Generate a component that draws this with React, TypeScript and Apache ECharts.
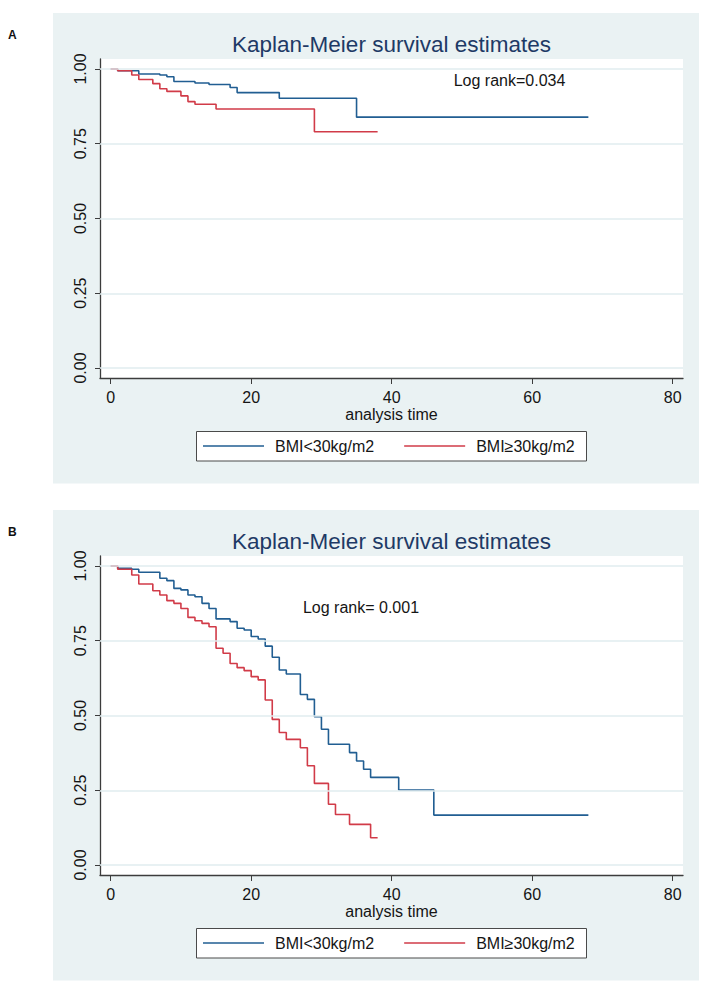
import React, { useEffect, useRef } from "react";
import * as echarts from "echarts";

// ---------- data ----------
const xTicks = [0, 20, 40, 60, 80];
const yTicks = [0, 0.25, 0.5, 0.75, 1];
const groupNames = ["BMI<30kg/m2", "BMI≥30kg/m2"];
const panelLabels = ["A", "B"];
const logRankTexts = ["Log rank=0.034", "Log rank= 0.001"];
const titleText = "Kaplan-Meier survival estimates";
const xTitle = "analysis time";

// Panel A
const aLowTime = [0, 1, 4, 7, 8, 9, 12, 14, 17, 18, 24, 35, 68];
const aLowSurv = [1, 0.994, 0.983, 0.98, 0.974, 0.958, 0.953, 0.948, 0.938, 0.921, 0.902, 0.839, 0.839];
const aHighTime = [0, 1, 3, 4, 6, 7, 8, 10, 11, 12, 15, 29, 38];
const aHighSurv = [1, 0.994, 0.98, 0.965, 0.951, 0.934, 0.925, 0.91, 0.891, 0.882, 0.866, 0.79, 0.79];

// Panel B
const bLowTime = [0, 1, 3, 4, 7, 8, 9, 10, 11, 12, 13, 14, 15, 17, 18, 19, 20, 21, 22, 23, 24, 25, 27, 28, 29, 30, 31, 34, 35, 36, 37, 41, 46, 68];
const bLowSurv = [1, 0.992, 0.989, 0.979, 0.959, 0.951, 0.925, 0.92, 0.903, 0.897, 0.875, 0.858, 0.823, 0.814, 0.792, 0.786, 0.764, 0.756, 0.732, 0.695, 0.652, 0.639, 0.57, 0.554, 0.496, 0.454, 0.404, 0.376, 0.348, 0.32, 0.293, 0.251, 0.167, 0.167];
const bHighTime = [0, 1, 3, 4, 6, 7, 8, 9, 10, 11, 12, 13, 14, 15, 16, 17, 18, 19, 20, 21, 22, 23, 24, 25, 27, 28, 29, 31, 32, 34, 37, 38];
const bHighSurv = [1, 0.989, 0.97, 0.94, 0.917, 0.903, 0.884, 0.875, 0.858, 0.828, 0.817, 0.808, 0.797, 0.725, 0.708, 0.674, 0.66, 0.65, 0.63, 0.619, 0.552, 0.487, 0.443, 0.42, 0.392, 0.332, 0.273, 0.203, 0.169, 0.136, 0.091, 0.091];

// ---------- styling ----------
const FONT = "'Liberation Sans', Arial, Helvetica, sans-serif";
const BLUE = "#215e92";
const RED = "#d13b48";
const PANEL_BG = "#eaf2f3";
const GRID_LINE = "#e0ecef";
const AXIS_COLOR = "#3c3c3c";
const TEXT_COLOR = "#151515";
const TITLE_COLOR = "#1e3a66";
const OFFSET = 497;

const zip = (t: number[], s: number[]) => t.map((v, i) => [v, s[i]]);

const panels = [
  { low: zip(aLowTime, aLowSurv), high: zip(aHighTime, aHighSurv) },
  { low: zip(bLowTime, bLowSurv), high: zip(bHighTime, bHighSurv) },
];

export default function App() {
  const ref = useRef<HTMLDivElement>(null);

  useEffect(() => {
    document.body.style.margin = "0";
    if (!ref.current) return;
    const chart = echarts.init(ref.current, undefined, { renderer: "svg" });

    const grids: any[] = [];
    const xAxes: any[] = [];
    const yAxes: any[] = [];
    const series: any[] = [];
    const titles: any[] = [];
    const legends: any[] = [];
    const graphics: any[] = [];

    panels.forEach((p, i) => {
      const dy = i * OFFSET;
      grids.push({
        left: 100,
        top: 59 + dy,
        width: 583,
        height: 319,
        show: true,
        backgroundColor: "#ffffff",
        borderWidth: 0,
      });
      xAxes.push({
        type: "value",
        gridIndex: i,
        min: -1.52,
        max: 81.47,
        name: xTitle,
        nameLocation: "middle",
        nameGap: 28,
        nameTextStyle: { fontSize: 16, color: TEXT_COLOR, fontFamily: FONT },
        axisLine: { show: true, onZero: false, lineStyle: { color: AXIS_COLOR, width: 1.3 } },
        axisTick: { show: true, length: 6, customValues: xTicks, lineStyle: { color: AXIS_COLOR, width: 1 } },
        axisLabel: {
          show: true,
          customValues: xTicks,
          margin: 11,
          fontSize: 16,
          color: TEXT_COLOR,
          fontFamily: FONT,
          formatter: (v: number) => String(v),
        },
        splitLine: { show: false },
      });
      yAxes.push({
        type: "value",
        gridIndex: i,
        min: -0.0334,
        max: 1.0334,
        axisLine: { show: true, onZero: false, lineStyle: { color: AXIS_COLOR, width: 1.3 } },
        axisTick: { show: true, length: 5, customValues: yTicks, lineStyle: { color: AXIS_COLOR, width: 1 } },
        axisLabel: {
          show: true,
          customValues: yTicks,
          rotate: 90,
          margin: 12,
          fontSize: 16,
          color: TEXT_COLOR,
          fontFamily: FONT,
          formatter: (v: number) => v.toFixed(2),
        },
        splitLine: { show: false },
      });
      series.push({
        name: "gridlines" + i,
        type: "line",
        xAxisIndex: i,
        yAxisIndex: i,
        data: [],
        z: 1,
        silent: true,
        markLine: {
          silent: true,
          symbol: "none",
          animation: false,
          label: { show: false },
          lineStyle: { color: GRID_LINE, width: 1.5, type: "solid" },
          data: yTicks.map((v) => ({ yAxis: v })),
        },
      });
      series.push({
        name: groupNames[0],
        type: "line",
        xAxisIndex: i,
        yAxisIndex: i,
        step: "end",
        showSymbol: false,
        symbol: "none",
        z: 3,
        color: BLUE,
        lineStyle: { color: BLUE, width: 1.6 },
        data: p.low,
      });
      series.push({
        name: groupNames[1],
        type: "line",
        xAxisIndex: i,
        yAxisIndex: i,
        step: "end",
        showSymbol: false,
        symbol: "none",
        z: 3,
        color: RED,
        lineStyle: { color: RED, width: 1.6 },
        data: p.high,
      });
      titles.push({
        text: titleText,
        left: 391.5,
        top: 32.5 + dy,
        textAlign: "center",
        padding: 0,
        textStyle: { fontSize: 22.5, fontWeight: "normal", color: TITLE_COLOR, fontFamily: FONT },
      });
      legends.push({
        data: groupNames,
        left: 203,
        top: 438 + dy,
        padding: 0,
        itemGap: 30,
        itemWidth: 61,
        itemHeight: 1.6,
        icon: "rect",
        selectedMode: false,
        textStyle: { fontSize: 16, color: TEXT_COLOR, fontFamily: FONT, padding: [0, 0, 0, 6] },
      });
      graphics.push({
        type: "rect",
        silent: true,
        z: -10,
        shape: { x: 53, y: 13 + dy, width: 646, height: 470.5 },
        style: { fill: PANEL_BG },
      });
      graphics.push({
        type: "rect",
        silent: true,
        z: 1,
        shape: { x: 196.5, y: 431.5 + dy, width: 390, height: 29.5 },
        style: { fill: "#ffffff", stroke: "#4a4a4a", lineWidth: 1 },
      });
      graphics.push({
        type: "text",
        silent: true,
        x: 8,
        y: 35 + dy,
        style: {
          text: panelLabels[i],
          fill: "#111",
          font: `bold 12px ${FONT}`,
          textAlign: "left",
          textVerticalAlign: "middle",
        },
      });
    });

    graphics.push({
      type: "text",
      silent: true,
      x: 509.5,
      y: 80,
      z: 5,
      style: {
        text: logRankTexts[0],
        fill: TEXT_COLOR,
        font: `16px ${FONT}`,
        textAlign: "center",
        textVerticalAlign: "middle",
      },
    });
    graphics.push({
      type: "text",
      silent: true,
      x: 361,
      y: 607,
      z: 5,
      style: {
        text: logRankTexts[1],
        fill: TEXT_COLOR,
        font: `16px ${FONT}`,
        textAlign: "center",
        textVerticalAlign: "middle",
      },
    });

    chart.setOption({
      animation: false,
      backgroundColor: "#ffffff",
      title: titles,
      legend: legends,
      grid: grids,
      xAxis: xAxes,
      yAxis: yAxes,
      series,
      graphic: { elements: graphics },
    });

    return () => {
      chart.dispose();
    };
  }, []);

  return <div ref={ref} style={{ width: 711, height: 993 }} />;
}
